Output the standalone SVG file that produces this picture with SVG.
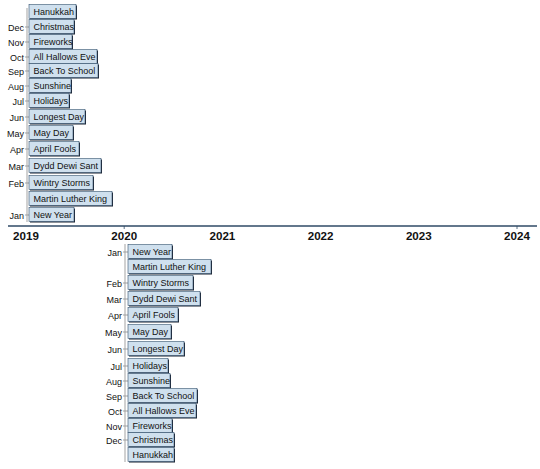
<svg xmlns="http://www.w3.org/2000/svg" width="540" height="469" viewBox="0 0 540 469">
<defs>
<style>
.sh{fill:#1a2230}
.bx{fill:#cfe0ee;stroke:#34526e;stroke-width:0.6}
.t{font-family:"Liberation Sans",Arial,sans-serif;font-size:9px;fill:#111}
.m{font-family:"Liberation Sans",Arial,sans-serif;font-size:9px;fill:#111;text-anchor:end}
.y{font-family:"Liberation Sans",Arial,sans-serif;font-size:11.6px;font-weight:bold;fill:#111;text-anchor:middle}
.vl{stroke:#999;stroke-width:0.9;fill:none}
.tk{stroke:#999;stroke-width:0.9}
</style>
</defs>
<rect width="540" height="469" fill="#fff"/>
<g id="axis">
<line x1="8" y1="226" x2="537" y2="226" stroke="#2f4a66" stroke-width="1.6"/>
<line x1="124.2" y1="226" x2="124.2" y2="229" stroke="#2f4a66" stroke-width="0.8"/>
<line x1="517" y1="226" x2="517" y2="229" stroke="#2f4a66" stroke-width="0.8"/>
<text class="y" x="26" y="239.5">2019</text>
<text class="y" x="124.2" y="239.5">2020</text>
<text class="y" x="222.4" y="239.5">2021</text>
<text class="y" x="320.6" y="239.5">2022</text>
<text class="y" x="418.8" y="239.5">2023</text>
<text class="y" x="517" y="239.5">2024</text>
</g>
<g id="connectors">
<line class="vl" x1="27" y1="8" x2="27" y2="222"/>
<line class="vl" x1="125" y1="244" x2="125" y2="462"/>
<g class="tk">
<line x1="25" y1="27" x2="29" y2="27"/><line x1="25" y1="42" x2="29" y2="42"/><line x1="25" y1="57" x2="29" y2="57"/><line x1="25" y1="71" x2="29" y2="71"/><line x1="25" y1="86" x2="29" y2="86"/><line x1="25" y1="101" x2="29" y2="101"/><line x1="25" y1="117" x2="29" y2="117"/><line x1="25" y1="133" x2="29" y2="133"/><line x1="25" y1="149" x2="29" y2="149"/><line x1="25" y1="166" x2="29" y2="166"/><line x1="25" y1="183" x2="29" y2="183"/><line x1="25" y1="215" x2="29" y2="215"/>
<line x1="123" y1="252" x2="128" y2="252"/><line x1="123" y1="283" x2="128" y2="283"/><line x1="123" y1="299" x2="128" y2="299"/><line x1="123" y1="315" x2="128" y2="315"/><line x1="123" y1="332" x2="128" y2="332"/><line x1="123" y1="349" x2="128" y2="349"/><line x1="123" y1="366" x2="128" y2="366"/><line x1="123" y1="381" x2="128" y2="381"/><line x1="123" y1="396" x2="128" y2="396"/><line x1="123" y1="411" x2="128" y2="411"/><line x1="123" y1="426" x2="128" y2="426"/><line x1="123" y1="440" x2="128" y2="440"/>
</g>
</g>
<g id="months">
<text class="m" x="24" y="30.5">Dec</text><text class="m" x="24" y="45.5">Nov</text><text class="m" x="24" y="60.5">Oct</text><text class="m" x="24" y="74.5">Sep</text><text class="m" x="24" y="89.5">Aug</text><text class="m" x="24" y="104.5">Jul</text><text class="m" x="24" y="120.5">Jun</text><text class="m" x="24" y="136.5">May</text><text class="m" x="24" y="152.5">Apr</text><text class="m" x="24" y="169.5">Mar</text><text class="m" x="24" y="186.5">Feb</text><text class="m" x="24" y="218.5">Jan</text>
<text class="m" x="122" y="255.5">Jan</text><text class="m" x="122" y="286.5">Feb</text><text class="m" x="122" y="302.5">Mar</text><text class="m" x="122" y="318.5">Apr</text><text class="m" x="122" y="335.5">May</text><text class="m" x="122" y="352.5">Jun</text><text class="m" x="122" y="369.5">Jul</text><text class="m" x="122" y="384.5">Aug</text><text class="m" x="122" y="399.5">Sep</text><text class="m" x="122" y="414.5">Oct</text><text class="m" x="122" y="429.5">Nov</text><text class="m" x="122" y="443.5">Dec</text>
</g>
<g id="n2019-hanukkah"><rect class="sh" x="30" y="5.5" width="47" height="14"/><rect class="bx" x="29" y="4.5" width="47" height="14"/><text class="t" x="33.5" y="15">Hanukkah</text></g>
<g id="n2019-christmas"><rect class="sh" x="30" y="20.5" width="45" height="14"/><rect class="bx" x="29" y="19.5" width="45" height="14"/><text class="t" x="33.5" y="30">Christmas</text></g>
<g id="n2019-fireworks"><rect class="sh" x="30" y="35.5" width="43" height="14"/><rect class="bx" x="29" y="34.5" width="43" height="14"/><text class="t" x="33.5" y="45">Fireworks</text></g>
<g id="n2019-allhallows"><rect class="sh" x="30" y="50.5" width="68" height="14"/><rect class="bx" x="29" y="49.5" width="68" height="14"/><text class="t" x="33.5" y="60">All Hallows Eve</text></g>
<g id="n2019-school"><rect class="sh" x="30" y="64.5" width="69" height="14"/><rect class="bx" x="29" y="63.5" width="69" height="14"/><text class="t" x="33.5" y="74">Back To School</text></g>
<g id="n2019-sunshine"><rect class="sh" x="30" y="79.5" width="42" height="14"/><rect class="bx" x="29" y="78.5" width="42" height="14"/><text class="t" x="33.5" y="89">Sunshine</text></g>
<g id="n2019-holidays"><rect class="sh" x="30" y="94.5" width="40" height="14"/><rect class="bx" x="29" y="93.5" width="40" height="14"/><text class="t" x="33.5" y="104">Holidays</text></g>
<g id="n2019-longest"><rect class="sh" x="30" y="110.5" width="56" height="14"/><rect class="bx" x="29" y="109.5" width="56" height="14"/><text class="t" x="33.5" y="120">Longest Day</text></g>
<g id="n2019-mayday"><rect class="sh" x="30" y="126.5" width="44" height="14"/><rect class="bx" x="29" y="125.5" width="44" height="14"/><text class="t" x="33.5" y="136">May Day</text></g>
<g id="n2019-april"><rect class="sh" x="30" y="142.5" width="50" height="14"/><rect class="bx" x="29" y="141.5" width="50" height="14"/><text class="t" x="33.5" y="152">April Fools</text></g>
<g id="n2019-dydd"><rect class="sh" x="30" y="159.5" width="72" height="14"/><rect class="bx" x="29" y="158.5" width="72" height="14"/><text class="t" x="33.5" y="169">Dydd Dewi Sant</text></g>
<g id="n2019-wintry"><rect class="sh" x="30" y="176.5" width="64" height="14"/><rect class="bx" x="29" y="175.5" width="64" height="14"/><text class="t" x="33.5" y="186">Wintry Storms</text></g>
<g id="n2019-mlk"><rect class="sh" x="30" y="192.5" width="83" height="14"/><rect class="bx" x="29" y="191.5" width="83" height="14"/><text class="t" x="33.5" y="202">Martin Luther King</text></g>
<g id="n2019-newyear"><rect class="sh" x="30" y="208.5" width="45" height="14"/><rect class="bx" x="29" y="207.5" width="45" height="14"/><text class="t" x="33.5" y="218">New Year</text></g>
<g id="n2020-newyear"><rect class="sh" x="129" y="245.5" width="44" height="14"/><rect class="bx" x="128" y="244.5" width="44" height="14"/><text class="t" x="132.5" y="255">New Year</text></g>
<g id="n2020-mlk"><rect class="sh" x="129" y="260.5" width="83" height="14"/><rect class="bx" x="128" y="259.5" width="83" height="14"/><text class="t" x="132.5" y="270">Martin Luther King</text></g>
<g id="n2020-wintry"><rect class="sh" x="129" y="276.5" width="65" height="14"/><rect class="bx" x="128" y="275.5" width="65" height="14"/><text class="t" x="132.5" y="286">Wintry Storms</text></g>
<g id="n2020-dydd"><rect class="sh" x="129" y="292.5" width="72" height="14"/><rect class="bx" x="128" y="291.5" width="72" height="14"/><text class="t" x="132.5" y="302">Dydd Dewi Sant</text></g>
<g id="n2020-april"><rect class="sh" x="129" y="308.5" width="50" height="14"/><rect class="bx" x="128" y="307.5" width="50" height="14"/><text class="t" x="132.5" y="318">April Fools</text></g>
<g id="n2020-mayday"><rect class="sh" x="129" y="325.5" width="43" height="14"/><rect class="bx" x="128" y="324.5" width="43" height="14"/><text class="t" x="132.5" y="335">May Day</text></g>
<g id="n2020-longest"><rect class="sh" x="129" y="342.5" width="56" height="14"/><rect class="bx" x="128" y="341.5" width="56" height="14"/><text class="t" x="132.5" y="352">Longest Day</text></g>
<g id="n2020-holidays"><rect class="sh" x="129" y="359.5" width="40" height="14"/><rect class="bx" x="128" y="358.5" width="40" height="14"/><text class="t" x="132.5" y="369">Holidays</text></g>
<g id="n2020-sunshine"><rect class="sh" x="129" y="374.5" width="42" height="14"/><rect class="bx" x="128" y="373.5" width="42" height="14"/><text class="t" x="132.5" y="384">Sunshine</text></g>
<g id="n2020-school"><rect class="sh" x="129" y="389.5" width="69" height="14"/><rect class="bx" x="128" y="388.5" width="69" height="14"/><text class="t" x="132.5" y="399">Back To School</text></g>
<g id="n2020-allhallows"><rect class="sh" x="129" y="404.5" width="68" height="14"/><rect class="bx" x="128" y="403.5" width="68" height="14"/><text class="t" x="132.5" y="414">All Hallows Eve</text></g>
<g id="n2020-fireworks"><rect class="sh" x="129" y="419.5" width="44" height="14"/><rect class="bx" x="128" y="418.5" width="44" height="14"/><text class="t" x="132.5" y="429">Fireworks</text></g>
<g id="n2020-christmas"><rect class="sh" x="129" y="433.5" width="46" height="14"/><rect class="bx" x="128" y="432.5" width="46" height="14"/><text class="t" x="132.5" y="443">Christmas</text></g>
<g id="n2020-hanukkah"><rect class="sh" x="129" y="448.5" width="46" height="14"/><rect class="bx" x="128" y="447.5" width="46" height="14"/><text class="t" x="132.5" y="458">Hanukkah</text></g>
</svg>
